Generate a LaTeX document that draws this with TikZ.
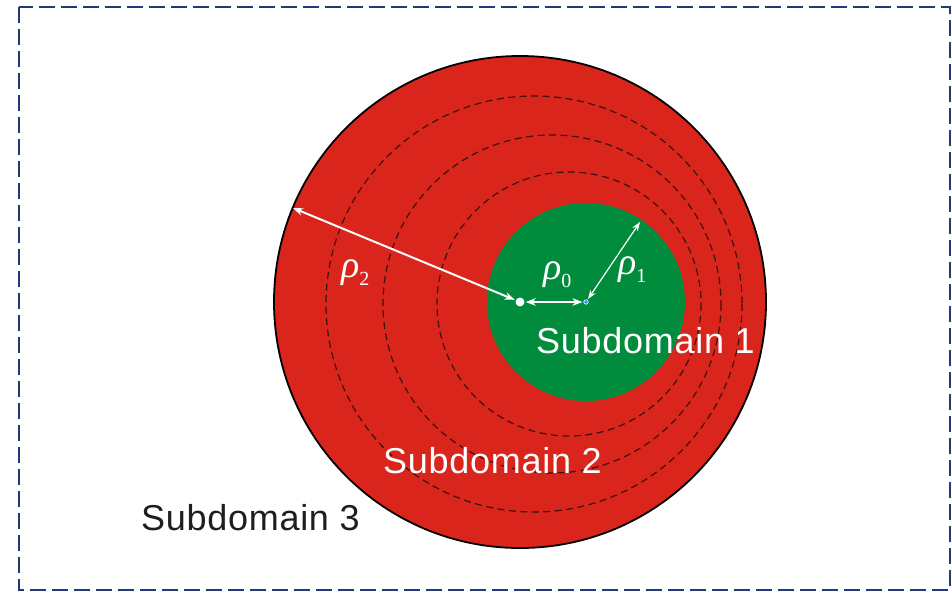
\documentclass[tikz,border=0pt]{standalone}
\usepackage{fontspec}
\setmainfont{Liberation Sans}
\newfontfamily\subfont[LetterSpace=2]{Liberation Sans}
\newfontfamily\rhofont{Liberation Serif}
\usetikzlibrary{arrows.meta}
\definecolor{bordernavy}{RGB}{32,58,120}
\definecolor{domred}{RGB}{218,37,29}
\definecolor{domgreen}{RGB}{0,140,60}
\definecolor{dashdark}{RGB}{60,16,14}
\definecolor{dotblue}{RGB}{40,150,255}
\definecolor{labeldark}{RGB}{30,30,30}
\tikzset{
  frame/.style={draw=bordernavy, line width=2.5pt, dash pattern=on 16pt off 6pt},
  ring/.style={draw=dashdark, line width=1.2pt, dash pattern=on 7pt off 4.5pt},
  dimarrow/.style={draw=white, line width=2pt, {Stealth[length=10pt,width=7.5pt]}-{Stealth[length=10pt,width=7.5pt]}},
  thinarrow/.style={draw=white, line width=1.2pt, {Stealth[length=9pt,width=6.5pt]}-{Stealth[length=9pt,width=6.5pt]}},
  sublabel/.style={anchor=base west, inner sep=0pt, font=\subfont\fontsize{36}{36}\selectfont},
  rholabel/.style={anchor=base west, inner sep=0pt, text=white, font=\rhofont\fontsize{38}{38}\selectfont},
}
\newcommand{\rhosub}[1]{\textit{ρ}\raisebox{-8pt}{\fontsize{20}{20}\selectfont #1}}
\begin{document}
\begin{tikzpicture}[x=1pt,y=-1pt]
\useasboundingbox (0,0) rectangle (952,592);
\draw[frame] (19,7) rectangle (950,590);
% outer domain
\coordinate (O) at (520,302);
\coordinate (C) at (586,302);
\fill[domred] (O) circle (246);
\draw[ring] (534,304) circle (208);
\draw[ring] (552,304) circle (169);
\draw[ring] (569,304) circle (132);
\fill[domgreen] (C) circle (99);
\draw[black, line width=1.8pt] (O) circle (246);
% centres
\node[circle, fill=white, inner sep=0pt, minimum size=9pt] (dot0) at (O) {};
\node[circle, fill=dotblue, draw=white, line width=0.6pt, inner sep=0pt, minimum size=4.5pt] (dot1) at (C) {};
\coordinate (P2) at (293,208);
\coordinate (P1) at (640,222);
% dimension arrows
\draw[dimarrow, shorten <=1pt] (dot0) -- (P2);
\draw[dimarrow, shorten <=1pt, shorten >=1pt] (dot0) -- (dot1);
\draw[thinarrow, shorten <=1pt] (dot1) -- (P1);
% labels
\node[rholabel] (r2) at (341,277) {\rhosub{2}};
\node[rholabel] (r0) at (543,279) {\rhosub{0}};
\node[rholabel] (r1) at (618,274) {\rhosub{1}};
\node[sublabel, text=white] (s1) at (536,353) {Subdomain 1};
\node[sublabel, text=white] (s2) at (383,473) {Subdomain 2};
\node[sublabel, text=labeldark] (s3) at (141,530) {Subdomain 3};
\end{tikzpicture}
\end{document}
